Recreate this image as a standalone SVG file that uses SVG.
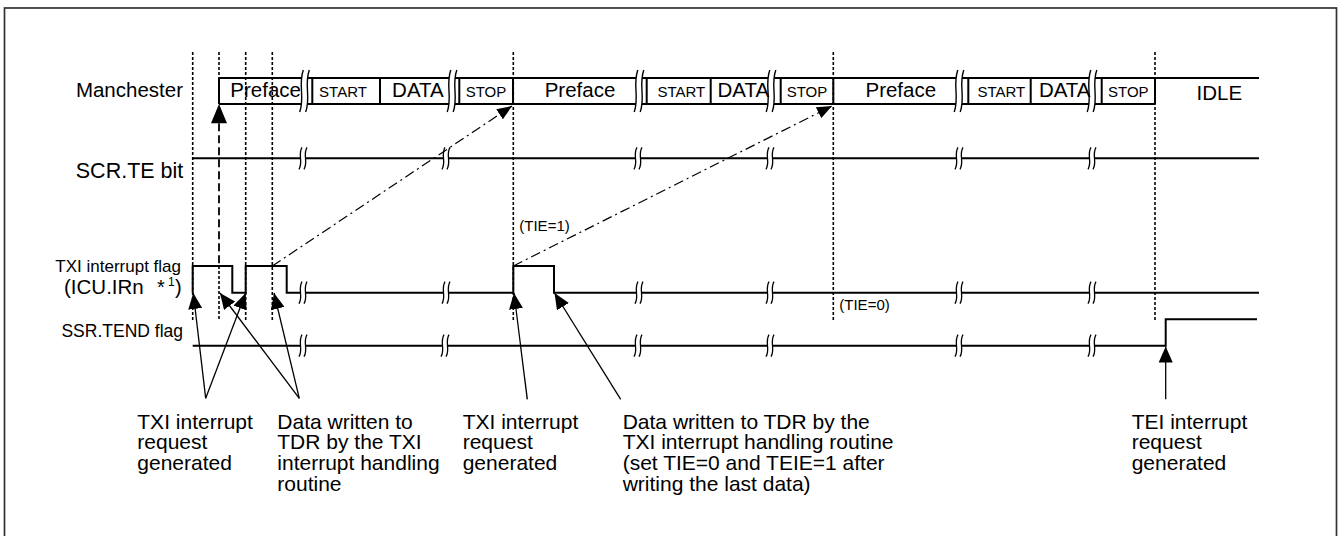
<svg xmlns="http://www.w3.org/2000/svg" xmlns:xlink="http://www.w3.org/1999/xlink" width="1339" height="536" viewBox="0 0 1339 536">
<style>
.sig{stroke:#000;stroke-width:2;fill:none}
.dot{stroke:#000;stroke-width:1.6;stroke-dasharray:3,2;fill:none}
.dash{stroke:#000;stroke-width:1.8;stroke-dasharray:8,4;fill:none}
.chain{stroke:#000;stroke-width:1.2;stroke-dasharray:10,4,2,4;fill:none}
.thin{stroke:#000;stroke-width:1.3;fill:none}
text{font-family:"Liberation Sans",Arial,sans-serif;fill:#000}
.big{font-size:20.5px}
.sm{font-size:15px}
.lbl{font-size:21px}
</style>
<defs>
<marker id="ah" markerUnits="userSpaceOnUse" markerWidth="16" markerHeight="14" refX="16" refY="7" orient="auto"><path d="M0,0 L16,7 L0,14 z" fill="#000"/></marker>
<marker id="ah2" markerUnits="userSpaceOnUse" markerWidth="15" markerHeight="12" refX="15" refY="6" orient="auto"><path d="M0,0 L15,6 L0,12 z" fill="#000"/></marker>
<path id="bs" d="M1.5,-11 C-3,-3.3 3,3.3 -1.5,11" fill="none" stroke="#000" stroke-width="1.3"/>
<path id="bl" d="M1.8,-21 C-3.6,-6 3.6,6 -1.8,21" fill="none" stroke="#000" stroke-width="1.4"/>
<g id="bps"><use href="#bs" x="-2.5"/><use href="#bs" x="2.5"/></g>
<g id="bpl"><use href="#bl" x="-3"/><use href="#bl" x="3"/></g>
</defs>
<rect x="4.5" y="8" width="1332" height="540" fill="#fff" stroke="#333" stroke-width="1.7"/>

<g id="guides">
<path class="dot" d="M192.7,52 V320 M245.7,52 V320 M272.3,52 V320 M513.3,52 V320 M833.3,52 V320 M1155,52 V320 M219,52 V78 M219,266 V320"/>
<path class="dash" d="M219,123.3 V266"/>
</g>

<g id="manchester">
<text class="big" x="183" y="97" text-anchor="end">Manchester</text>
<path class="sig" d="M219,78 H301.5 M307.5,78 H449 M455,78 H636 M642,78 H768 M774,78 H956 M962,78 H1089 M1095,78 H1259
M219,104 H301.5 M307.5,104 H449 M455,104 H636 M642,104 H768 M774,104 H956 M962,104 H1089 M1095,104 H1155
M219,78 V104 M312.3,78 V104 M380,78 V104 M459.3,78 V104 M513,78 V104 M646.7,78 V104 M710.7,78 V104 M780.7,78 V104 M833.3,78 V104 M968.3,78 V104 M1030.7,78 V104 M1101.7,78 V104 M1155,78 V104"/>
<use href="#bpl" x="304.5" y="91"/>
<use href="#bpl" x="452" y="91"/>
<use href="#bpl" x="639" y="91"/>
<use href="#bpl" x="771" y="91"/>
<use href="#bpl" x="959" y="91"/>
<use href="#bpl" x="1092" y="91"/>
<text class="big" x="265.7" y="97.3" text-anchor="middle">Preface</text>
<text class="sm" x="343" y="96.7" text-anchor="middle">START</text>
<text class="big" x="417.9" y="97.3" text-anchor="middle">DATA</text>
<text class="sm" x="486" y="96.7" text-anchor="middle">STOP</text>
<text class="big" x="580" y="97.3" text-anchor="middle">Preface</text>
<text class="sm" x="681.3" y="96.7" text-anchor="middle">START</text>
<text class="big" x="743.3" y="97.3" text-anchor="middle">DATA</text>
<text class="sm" x="807" y="96.7" text-anchor="middle">STOP</text>
<text class="big" x="900.8" y="97.3" text-anchor="middle">Preface</text>
<text class="sm" x="1001.3" y="96.7" text-anchor="middle">START</text>
<text class="big" x="1064.7" y="97.3" text-anchor="middle">DATA</text>
<text class="sm" x="1128.3" y="96.7" text-anchor="middle">STOP</text>
<text class="big" x="1219.3" y="100" text-anchor="middle">IDLE</text>
</g>

<g id="scr">
<text class="big" x="183.3" y="178" text-anchor="end" style="font-size:21.5px">SCR.TE bit</text>
<path class="sig" d="M192.7,158.3 H300.5 M305.5,158.3 H443.5 M448.5,158.3 H635.5 M640.5,158.3 H767.5 M772.5,158.3 H956.5 M961.5,158.3 H1089.5 M1094.5,158.3 H1259"/>
<use href="#bps" x="303" y="158.3"/>
<use href="#bps" x="446" y="158.3"/>
<use href="#bps" x="638" y="158.3"/>
<use href="#bps" x="770" y="158.3"/>
<use href="#bps" x="959" y="158.3"/>
<use href="#bps" x="1092" y="158.3"/>
</g>

<g id="txi">
<text x="181" y="272" text-anchor="end" style="font-size:17px">TXI interrupt flag</text>
<text x="64" y="293.5" style="font-size:20.5px">(ICU.IRn</text>
<text x="157" y="293.5" style="font-size:20px">*</text>
<text x="168" y="286" style="font-size:12px">1</text>
<text x="175" y="293.5" style="font-size:20px">)</text>
<path class="sig" d="M192.7,292.7 V266 H232.3 V292.7 H245.7 V266 H286.7 V292.7 H300.5 M305.5,292.7 H443.5 M448.5,292.7 H513.3 V266 H554 V292.7 H636.5 M641.5,292.7 H767.5 M772.5,292.7 H956.5 M961.5,292.7 H1089.5 M1094.5,292.7 H1259"/>
<use href="#bps" x="303" y="292.7"/>
<use href="#bps" x="446" y="292.7"/>
<use href="#bps" x="639" y="292.7"/>
<use href="#bps" x="770" y="292.7"/>
<use href="#bps" x="959" y="292.7"/>
<use href="#bps" x="1092" y="292.7"/>
<text class="sm" x="519.3" y="230.5">(TIE=1)</text>
<text class="sm" x="839.3" y="310">(TIE=0)</text>
</g>

<g id="ssr">
<text x="183" y="336.7" text-anchor="end" style="font-size:17.5px">SSR.TEND flag</text>
<path class="sig" d="M192.7,345.7 H300.5 M305.5,345.7 H442.5 M447.5,345.7 H635.5 M640.5,345.7 H767.5 M772.5,345.7 H956.5 M961.5,345.7 H1089.5 M1094.5,345.7 H1165.7 V319.3 H1257"/>
<use href="#bps" x="303" y="345.7"/>
<use href="#bps" x="445" y="345.7"/>
<use href="#bps" x="638" y="345.7"/>
<use href="#bps" x="770" y="345.7"/>
<use href="#bps" x="959" y="345.7"/>
<use href="#bps" x="1092" y="345.7"/>
</g>

<g id="connectors">
<polygon points="219,104 211,123.3 227,123.3" fill="#000"/>
<path class="chain" d="M272.3,266 L512,106" marker-end="url(#ah2)"/>
<path class="chain" d="M513.3,266 L832,106" marker-end="url(#ah2)"/>
<path class="thin" d="M205.7,398.3 L193.3,293" marker-end="url(#ah)"/>
<path class="thin" d="M205.7,398.3 L245.7,293" marker-end="url(#ah)"/>
<path class="thin" d="M299.3,398.3 L220,293" marker-end="url(#ah)"/>
<path class="thin" d="M299.3,398.3 L274,293" marker-end="url(#ah)"/>
<path class="thin" d="M527.3,399.3 L514,293" marker-end="url(#ah)"/>
<path class="thin" d="M620.7,399.3 L554.5,293" marker-end="url(#ah)"/>
<path class="thin" d="M1165.7,399.3 L1165.7,346.5" marker-end="url(#ah)"/>
</g>

<g id="labels">
<text class="lbl" x="137.3"><tspan x="137.3" y="428.5">TXI interrupt</tspan><tspan x="137.3" y="449.3">request</tspan><tspan x="137.3" y="470.1">generated</tspan></text>
<text class="lbl" x="277.3"><tspan x="277.3" y="428.5">Data written to</tspan><tspan x="277.3" y="449.3">TDR by the TXI</tspan><tspan x="277.3" y="470.1">interrupt handling</tspan><tspan x="277.3" y="490.9">routine</tspan></text>
<text class="lbl" x="462.7"><tspan x="462.7" y="428.5">TXI interrupt</tspan><tspan x="462.7" y="449.3">request</tspan><tspan x="462.7" y="470.1">generated</tspan></text>
<text class="lbl" x="622.7"><tspan x="622.7" y="428.5">Data written to TDR by the</tspan><tspan x="622.7" y="449.3">TXI interrupt handling routine</tspan><tspan x="622.7" y="470.1">(set TIE=0 and TEIE=1 after</tspan><tspan x="622.7" y="490.9">writing the last data)</tspan></text>
<text class="lbl" x="1131.7"><tspan x="1131.7" y="428.5">TEI interrupt</tspan><tspan x="1131.7" y="449.3">request</tspan><tspan x="1131.7" y="470.1">generated</tspan></text>
</g>
</svg>
